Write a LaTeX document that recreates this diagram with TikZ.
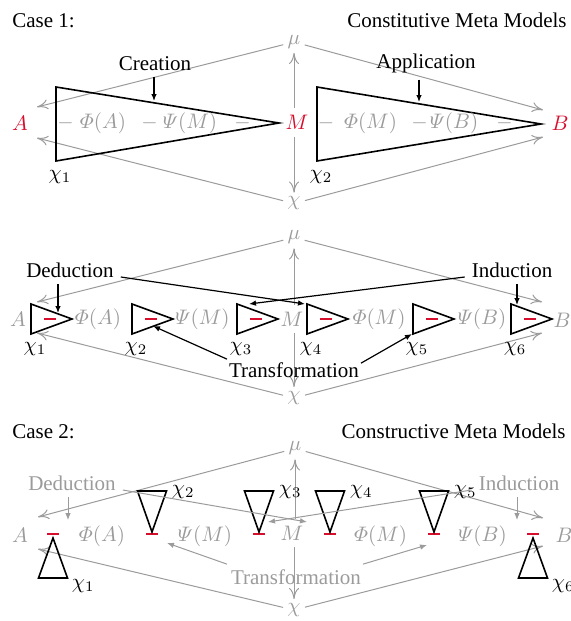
\RequirePackage{fix-cm}
\documentclass[tikz,border=0pt]{standalone}
\usepackage{amsmath}
\usepackage[no-math]{fontspec}
\setmainfont{Liberation Serif}
\usetikzlibrary{arrows.meta,calc}
\definecolor{fade}{RGB}{155,155,155}
\definecolor{hot}{RGB}{215,15,45}
\begin{document}
\begin{tikzpicture}[x=0.5pt,y=-0.5pt,
  every node/.append style={font=\fontsize{10.5}{12.6}\selectfont},
  pale/.style={text=fade},
  hue/.style={text=hot},
  apex/.style={inner sep=2pt},
  heading/.style={inner sep=0pt},
  wire/.style={draw=fade, line width=0.5pt, -{To[length=5.5pt,width=5pt]}},
  pointer/.style={draw=black, line width=0.6pt, -{Latex[length=3.5pt,width=2.8pt]}},
  palepointer/.style={draw=fade, line width=0.5pt, -{Latex[length=3.5pt,width=2.8pt]}},
  wedge/.style={draw=black, line width=0.8pt, line join=miter},
  redbar/.style={draw=hot, line width=1.2pt},
  sub/.style={inner sep=1pt}]
\useasboundingbox (0,0) rectangle (571,621);

% ---------------- Case 1, upper row ----------------
\node[heading,anchor=base west] (case1) at (12,27) {Case 1:};
\node[heading,anchor=base east] (meta1) at (567,27) {Constitutive Meta Models};
\node[pale,apex] (mu1) at (294,42) {$\mu$};
\node[pale,apex] (chi1) at (294,203.5) {$\chi$};
\node[hue] (A1) at (20,123) {$A$};
\node[hue] (M1) at (297,122.5) {$M$};
\node[hue] (B1) at (560,123) {$B$};
\coordinate (a1u) at (37,107);
\coordinate (a1d) at (37,138);
\coordinate (b1u) at (543,110);
\coordinate (b1d) at (543,137);
\draw[wire] (mu1) -- (a1u);
\draw[wire] (chi1) -- (a1d);
\draw[wire] (mu1) -- (b1u);
\draw[wire] (chi1) -- (b1d);
\draw[wire] (mu1.south |- M1.north) -- (mu1.south);
\draw[wire] (chi1.north |- M1.south) -- (chi1.north);

\draw[wedge] (56,87) -- (279,123) -- (56,161) -- cycle;
\draw[wedge] (317,87) -- (541,124) -- (317,161) -- cycle;
\node (x11) at (60,177) {$\chi_1$};
\node (x12) at (321,177) {$\chi_2$};
\foreach \d in {65.5,149.5,242.5,326,419.5,504.5}
  \node[pale] at (\d,123) {$-$};
\node[pale] (p1a) at (103,123) {$\varPhi(A)$};
\node[pale] (p1b) at (190,123) {$\varPsi(M)$};
\node[pale] (p1c) at (370.5,123) {$\varPhi(M)$};
\node[pale] (p1d) at (454,123) {$\varPsi(B)$};

\node[anchor=base] (creation) at (155,70) {Creation};
\coordinate (c1) at (154,101);
\draw[pointer] (creation.south -| c1) -- (c1);
\node[anchor=base] (application) at (426,68) {Application};
\coordinate (c2) at (419,102);
\draw[pointer] (application.south -| c2) -- (c2);

% ---------------- Case 1, lower row ----------------
\node[pale,apex] (mu2) at (294,237.5) {$\mu$};
\node[pale,apex] (chi2) at (294,398) {$\chi$};
\node[pale] (A2) at (18,319) {$A$};
\node[pale] (M2) at (292,319) {$M$};
\node[pale] (B2) at (562,320) {$B$};
\coordinate (a2u) at (37,302);
\coordinate (a2d) at (37,333);
\coordinate (b2u) at (542,302);
\coordinate (b2d) at (542,333);
\draw[wire] (mu2) -- (a2u);
\draw[wire] (chi2) -- (a2d);
\draw[wire] (mu2) -- (b2u);
\draw[wire] (chi2) -- (b2d);
\draw[wire] (mu2.south |- M2.north) -- (mu2.south);
\draw[wire] (chi2.north |- M2.south) -- (chi2.north);

\node[pale] (p2a) at (98,319) {$\varPhi(A)$};
\node[pale] (p2b) at (202.5,319) {$\varPsi(M)$};
\node[pale] (p2c) at (379,319) {$\varPhi(M)$};
\node[pale] (p2d) at (482,319) {$\varPsi(B)$};
\foreach \l/\i in {31/1,132/2,237/3,307/4,413/5,511/6}{
  \draw[wedge] (\l,304) -- (\l+41,319) -- (\l,334) -- cycle;
  \draw[redbar] (\l+13,319) -- (\l+25,319);
  \node (x2\i) at (\l+4,349) {$\chi_{\i}$};
}

\node[anchor=base] (ded) at (70,277) {Deduction};
\coordinate (d1) at (58,313);
\draw[pointer] (ded.south -| d1) -- (d1);
\coordinate (d4) at (305,304);
\draw[pointer] (ded.base east) -- (d4);
\node[anchor=base] (ind) at (512,277) {Induction};
\coordinate (i6) at (517,305);
\draw[pointer] (ind.south -| i6) -- (i6);
\coordinate (i3) at (249,304);
\draw[pointer] (ind.base west) -- (i3);
\node[anchor=base] (trans) at (294,377) {Transformation};
\coordinate (t2) at (153,326);
\coordinate (t5) at (412,334);
\draw[pointer] ([shift={(5,4)}]trans.north west) -- (t2);
\draw[pointer] ([shift={(-5,8)}]trans.north east) -- (t5);

% ---------------- Case 2 ----------------
\node[heading,anchor=base west] (case2) at (12,438) {Case 2:};
\node[heading,anchor=base east] (meta2) at (566,438) {Constructive Meta Models};
\node[pale,apex] (mu3) at (295,448.5) {$\mu$};
\node[pale,apex] (chi3) at (294,610) {$\chi$};
\node[pale] (A3) at (20,535) {$A$};
\node[pale] (M3) at (292,533) {$M$};
\node[pale] (B3) at (564,535) {$B$};
\coordinate (a3u) at (38,517);
\coordinate (a3d) at (38,549);
\coordinate (b3u) at (543,518);
\coordinate (b3d) at (543,546);
\draw[wire] (mu3) -- (a3u);
\draw[wire] (chi3) -- (a3d);
\draw[wire] (mu3) -- (b3u);
\draw[wire] (chi3) -- (b3d);
\draw[wire] (mu3.south |- M3.north) -- (mu3.south);
\draw[wire] (chi3.north |- M3.south) -- (chi3.north);

\node[pale] (p3a) at (102,536) {$\varPhi(A)$};
\node[pale] (p3b) at (205,536) {$\varPsi(M)$};
\node[pale] (p3c) at (380.5,536) {$\varPhi(M)$};
\node[pale] (p3d) at (482.5,536) {$\varPsi(B)$};

% red bars
\foreach \c in {53,152,259,330,434,533}
  \draw[redbar] (\c-6,534) -- (\c+6,534);
% upward wedges at both ends
\foreach \c/\i in {53/1,533/6}{
  \draw[wedge] (\c,538) -- (\c+14.5,578) -- (\c-14.5,578) -- cycle;
  \node[sub,anchor=west] (x3\i) at (\c+16.5,586) {$\chi_{\i}$};
}
% downward wedges in between
\foreach \c/\i in {152/2,259/3,330/4,434/5}{
  \draw[wedge] (\c-14.5,491) -- (\c+14.5,491) -- (\c,532) -- cycle;
  \node[sub,anchor=west] (x3\i) at (\c+17.5,492) {$\chi_{\i}$};
}

\node[pale,anchor=base] (ded3) at (72,490) {Deduction};
\coordinate (d3) at (68,520);
\draw[palepointer] (ded3.south -| d3) -- (d3);
\coordinate (m3r) at (307,522);
\draw[palepointer] (ded3.base east) -- (m3r);
\node[pale,anchor=base] (ind3) at (519,490) {Induction};
\coordinate (i3b) at (517,520);
\draw[palepointer] (ind3.south -| i3b) -- (i3b);
\coordinate (m3l) at (268,522);
\draw[palepointer] (ind3.base west) -- (m3l);
\node[pale,anchor=base] (trans3) at (296,584) {Transformation};
\coordinate (g2) at (167,543);
\coordinate (g5) at (427,545);
\draw[palepointer] ([shift={(3,2)}]trans3.north west) -- (g2);
\draw[palepointer] ([shift={(-5,2)}]trans3.north east) -- (g5);
\end{tikzpicture}
\end{document}
